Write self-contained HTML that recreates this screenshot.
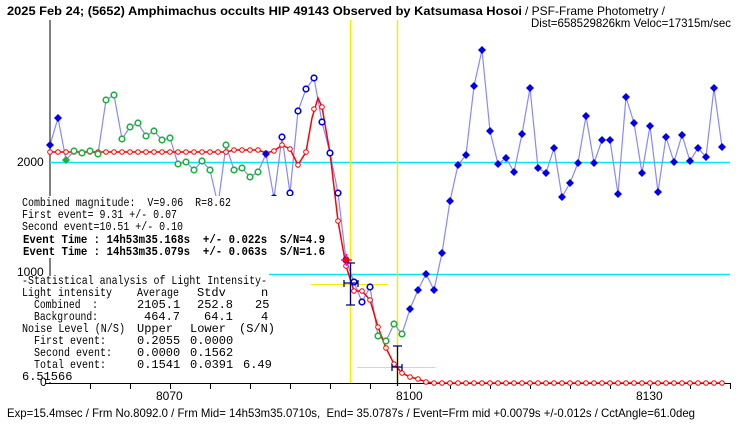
<!DOCTYPE html>
<html><head><meta charset="utf-8"><style>
body{margin:0;background:#fff;width:740px;height:425px;overflow:hidden}
svg text{font-family:"Liberation Mono","Noto Sans CJK JP",monospace;font-size:12px;fill:#000;white-space:pre}
.s{font-family:"Liberation Sans","Noto Sans CJK JP",sans-serif}
.b{font-weight:bold}
</style></head><body>
<svg id="g" width="740" height="425" viewBox="0 0 740 425" xmlns="http://www.w3.org/2000/svg" xml:space="preserve">
<text x="7" y="15" class="s b" font-size="12" textLength="515" lengthAdjust="spacingAndGlyphs">2025 Feb 24; (5652) Amphimachus occults HIP 49143 Observed by Katsumasa Hosoi</text>
<text x="525" y="15" class="s" font-size="12" textLength="140" lengthAdjust="spacingAndGlyphs">/ PSF-Frame Photometry /</text>
<text x="531" y="27" class="s" font-size="12" textLength="200" lengthAdjust="spacingAndGlyphs">Dist=658529826km Veloc=17315m/sec</text>
<line x1="50" y1="20" x2="50" y2="384" stroke="#000"/>
<line x1="45" y1="383.5" x2="730" y2="383.5" stroke="#000"/>
<g stroke="#000" id="ticks"></g>
<line x1="50" y1="162.5" x2="730" y2="162.5" stroke="#00e8f0" stroke-width="1.5"/>
<line x1="269" y1="274.5" x2="730" y2="274.5" stroke="#00e8f0" stroke-width="1.5"/>
<line x1="350.5" y1="20" x2="350.5" y2="383" stroke="#f0f000" stroke-width="1.5"/>
<line x1="397.5" y1="20" x2="397.5" y2="383" stroke="#f0f000" stroke-width="1.5"/>
<line x1="311" y1="284.5" x2="388" y2="284.5" stroke="#f0f000"/>
<line x1="357" y1="367.5" x2="435" y2="367.5" stroke="#f0f000"/>
<g id="data"></g>
<g stroke="#000080" stroke-width="1.3" fill="none">
<path d="M350.5 263V305M346 263H355M346 305H355M344 283H358M344 280V287M358 280V287"/>
<path d="M397.5 346V386M393 346H402M392 367H402M392 364V371M402 364V371"/>
</g>
<path d="M341 260H352M346.5 254V266" stroke="#ff00ff" stroke-width="1.5"/>
<circle cx="346" cy="260" r="3" fill="#f00"/>
<text x="17" y="166" class="s" font-size="11">2000</text>
<g>
<rect x="20" y="196" width="310" height="62" fill="#fff"/>
<rect x="20" y="276" width="250" height="106" fill="#fff"/>
</g>
<text x="17" y="276" class="s" font-size="11">1000</text>
<text x="40" y="386" class="s" font-size="11">0</text>
<text x="22" y="206" textLength="209" lengthAdjust="spacingAndGlyphs">Combined magnitude:  V=9.06  R=8.62</text>
<text x="22" y="218" textLength="155" lengthAdjust="spacingAndGlyphs">First event= 9.31 +/- 0.07</text>
<text x="22" y="230" textLength="161" lengthAdjust="spacingAndGlyphs">Second event=10.51 +/- 0.10</text>
<text x="23" y="243" class="b" textLength="302" lengthAdjust="spacingAndGlyphs">Event Time : 14h53m35.168s  +/- 0.022s  S/N=4.9</text>
<text x="23" y="255" class="b" textLength="302" lengthAdjust="spacingAndGlyphs">Event Time : 14h53m35.079s  +/- 0.063s  S/N=1.6</text>
<text x="22" y="284" textLength="245" lengthAdjust="spacingAndGlyphs">-Statistical analysis of Light Intensity-</text>
<text x="22" y="296" textLength="90" lengthAdjust="spacingAndGlyphs">Light intensity</text><text x="137" y="296" textLength="42" lengthAdjust="spacingAndGlyphs">Average</text><text x="197" y="296">Stdv</text><text x="261" y="296">n</text>
<text x="34" y="308" textLength="64" lengthAdjust="spacingAndGlyphs">Combined  :</text><text x="137" y="308">2105.1</text><text x="197" y="308">252.8</text><text x="255" y="308">25</text>
<text x="34" y="320" textLength="64" lengthAdjust="spacingAndGlyphs">Background:</text><text x="144" y="320">464.7</text><text x="204" y="320">64.1</text><text x="261" y="320">4</text>
<text x="22" y="332" textLength="103" lengthAdjust="spacingAndGlyphs">Noise Level (N/S)</text><text x="137" y="332">Upper</text><text x="190" y="332">Lower</text><text x="239" y="332">(S/N)</text>
<text x="34" y="344" textLength="72" lengthAdjust="spacingAndGlyphs">First event:</text><text x="137" y="344">0.2055</text><text x="190" y="344">0.0000</text>
<text x="34" y="356" textLength="78" lengthAdjust="spacingAndGlyphs">Second event:</text><text x="137" y="356">0.0000</text><text x="190" y="356">0.1562</text>
<text x="34" y="368" textLength="72" lengthAdjust="spacingAndGlyphs">Total event:</text><text x="137" y="368">0.1541</text><text x="190" y="368">0.0391</text><text x="243" y="368">6.49</text>
<text x="22" y="380">6.51566</text>
<text x="156" y="400" class="s" font-size="12">8070</text>
<text x="396" y="400" class="s" font-size="12">8100</text>
<text x="636" y="400" class="s" font-size="12">8130</text>
<text x="7" y="417" class="s" font-size="12" textLength="688" lengthAdjust="spacingAndGlyphs">Exp=15.4msec / Frm No.8092.0 / Frm Mid= 14h53m35.0710s,  End= 35.0787s / Event=Frm mid +0.0079s +/-0.012s / CctAngle=61.0deg</text>
</svg>
<script>
var NS="http://www.w3.org/2000/svg";
function el(t,a,p){var e=document.createElementNS(NS,t);for(var k in a)e.setAttribute(k,a[k]);(p||document.getElementById('data')).appendChild(e);return e;}
var tk=document.getElementById('ticks');
for(var x=90;x<=730;x+=40)el('line',{x1:x+.5,y1:383,x2:x+.5,y2:389},tk);
var ob=[145,118,160,151,153,151,154,100,95,139,127,123,136,131,140,138,164,162,170,161,170,205,145,170,168,177,172,154,198,137,193,111,89,78,122,153,193,260,282,302,287,336,341,324,334,309,290,274,290,253,201,165,155,86,50,131,164,158,172,134,88,168,173,148,197,183,163,116,163,140,140,194,97,123,173,126,192,137,162,135,161,148,157,88,147];
var pts=ob.map(function(y,i){return (50+8*i)+','+y}).join(' ');
el('polyline',{points:pts,fill:'none',stroke:'#8888ff','stroke-width':1.2});
var rd={266:153,274:151,282:145,290:149,298:165,306:152,314:109,322:107,330:153,338:221,346:266,354:291,362:291,370:300,378:327,386:348,394:364,402:373,410:377,418:379,426:382};
var rp=[];
for(var x=50;x<=722;x+=8){var y=rd[x]!==undefined?rd[x]:(x<266?(x>=234?150:152):383);rp.push([x,y]);}
el('path',{d:"M"+rp.map(function(p){return p.join(',')}).join(' L').replace('306,152 L314,109 L322,107','306,152 L312,118 L318,98 L322,107'),fill:'none',stroke:'#f00','stroke-width':1.5});
rp.forEach(function(p){el('circle',{cx:p[0],cy:p[1],r:2.3,fill:'#fff',stroke:'#f00','stroke-width':1});});
ob.forEach(function(y,i){var x=50+8*i;
 var green=(i>=2&&i<=26)||(i>=41&&i<=44);
 var filled=(i<=2)||i===27||i>=45;
 var col=green?'#20b040':'#0000ee';
 if(filled){el('path',{d:'M'+x+' '+(y-4)+'L'+(x+4)+' '+y+'L'+x+' '+(y+4)+'L'+(x-4)+' '+y+'Z',fill:col});}
 else el('circle',{cx:x,cy:y,r:2.8,fill:'#fff',stroke:col,'stroke-width':1.6});
});
</script>
</body></html>
